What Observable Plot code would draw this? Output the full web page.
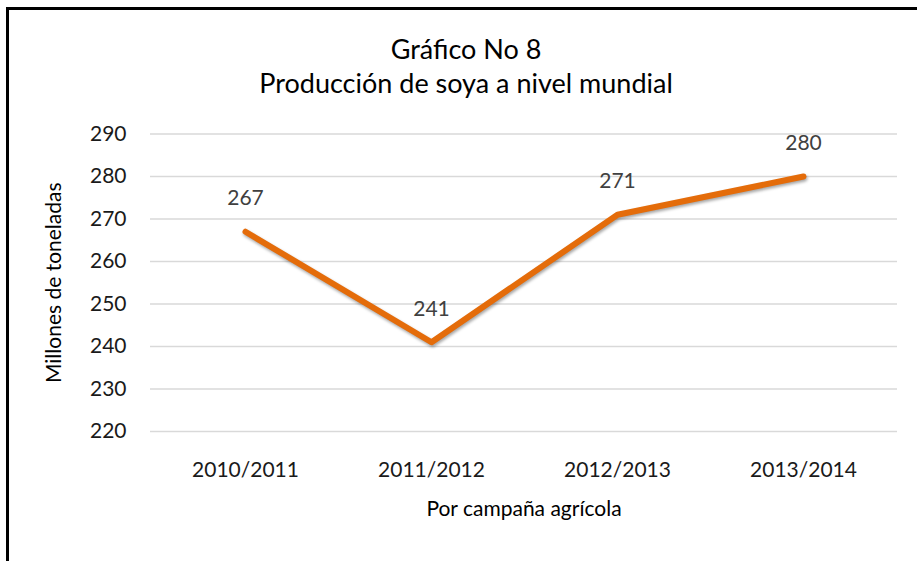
<!DOCTYPE html>
<html>
<head>
<meta charset="utf-8">
<script src="https://cdn.jsdelivr.net/npm/d3@7"></script>
<script src="https://cdn.jsdelivr.net/npm/@observablehq/plot@0.6"></script>
<style>
  html, body { margin: 0; padding: 0; background: #fff; overflow: hidden; }
  #wrap { position: relative; width: 917px; height: 561px; }
  #frame { position: absolute; left: 6px; top: 7px; width: 1000px; height: 1000px;
           border-left: 3px solid #000; border-top: 3px solid #000; pointer-events: none; }
  svg { font-family: Lato, "Noto Sans", sans-serif; }
</style>
</head>
<body>
<div id="wrap"><div id="frame"></div></div>
<script>
const campaigns = ["2010/2011", "2011/2012", "2012/2013", "2013/2014"];
const production = [267, 241, 271, 280];
const yTicks = [220, 230, 240, 250, 260, 270, 280, 290];
const titleLine1 = "Gráfico No 8";
const titleLine2 = "Producción de soya a nivel mundial";
const xTitle = "Por campaña agrícola";
const yTitle = "Millones de toneladas";

const data = campaigns.map((c, i) => ({campaign: c, value: production[i]}));

const chart = Plot.plot({
  width: 917,
  height: 561,
  marginLeft: 150,
  marginRight: 20,
  marginTop: 133.5,
  marginBottom: 130,
  style: {fontFamily: "Lato, 'Noto Sans', sans-serif", background: "transparent"},
  x: {type: "point", domain: campaigns, padding: 0.5},
  y: {domain: [220, 290]},
  marks: [
    Plot.gridY(yTicks, {stroke: "#d9d9d9", strokeOpacity: 1, strokeWidth: 1.3}),
    Plot.axisY(yTicks, {tickSize: 0, tickPadding: 24, fontSize: 21, fill: "#1a1a1a", label: null}),
    Plot.axisX({tickSize: 0, tickPadding: 31, fontSize: 21, fill: "#1a1a1a", label: null}),
    Plot.line(data, {x: "campaign", y: "value", stroke: "#E46C0A", strokeWidth: 6,
      strokeLinecap: "round", strokeLinejoin: "round", className: "soy-line"}),
    Plot.text(data, {x: "campaign", y: "value", text: d => String(d.value), dy: -33,
      fontSize: 21, fill: "#404040"}),
    Plot.text([titleLine1], {frameAnchor: "top", dx: -58, dy: -84, fontSize: 27, fill: "#000", lineAnchor: "middle"}),
    Plot.text([titleLine2], {frameAnchor: "top", dx: -58, dy: -49.5, fontSize: 27, fill: "#000", lineAnchor: "middle"}),
    Plot.text([xTitle], {frameAnchor: "bottom", dx: 0, dy: 78, fontSize: 21, fill: "#000", lineAnchor: "middle"}),
    Plot.text([yTitle], {frameAnchor: "left", textAnchor: "middle", dx: -96, dy: 0, rotate: -90, fontSize: 21, fill: "#000", lineAnchor: "middle"})
  ]
});

chart.querySelectorAll(".soy-line path").forEach(p => {
  p.style.filter = "drop-shadow(1.5px 2px 1.5px rgba(0,0,0,0.35))";
});
chart.style.position = "absolute";
chart.style.left = "0px";
chart.style.top = "0px";
document.getElementById("wrap").appendChild(chart);
</script>
</body>
</html>
